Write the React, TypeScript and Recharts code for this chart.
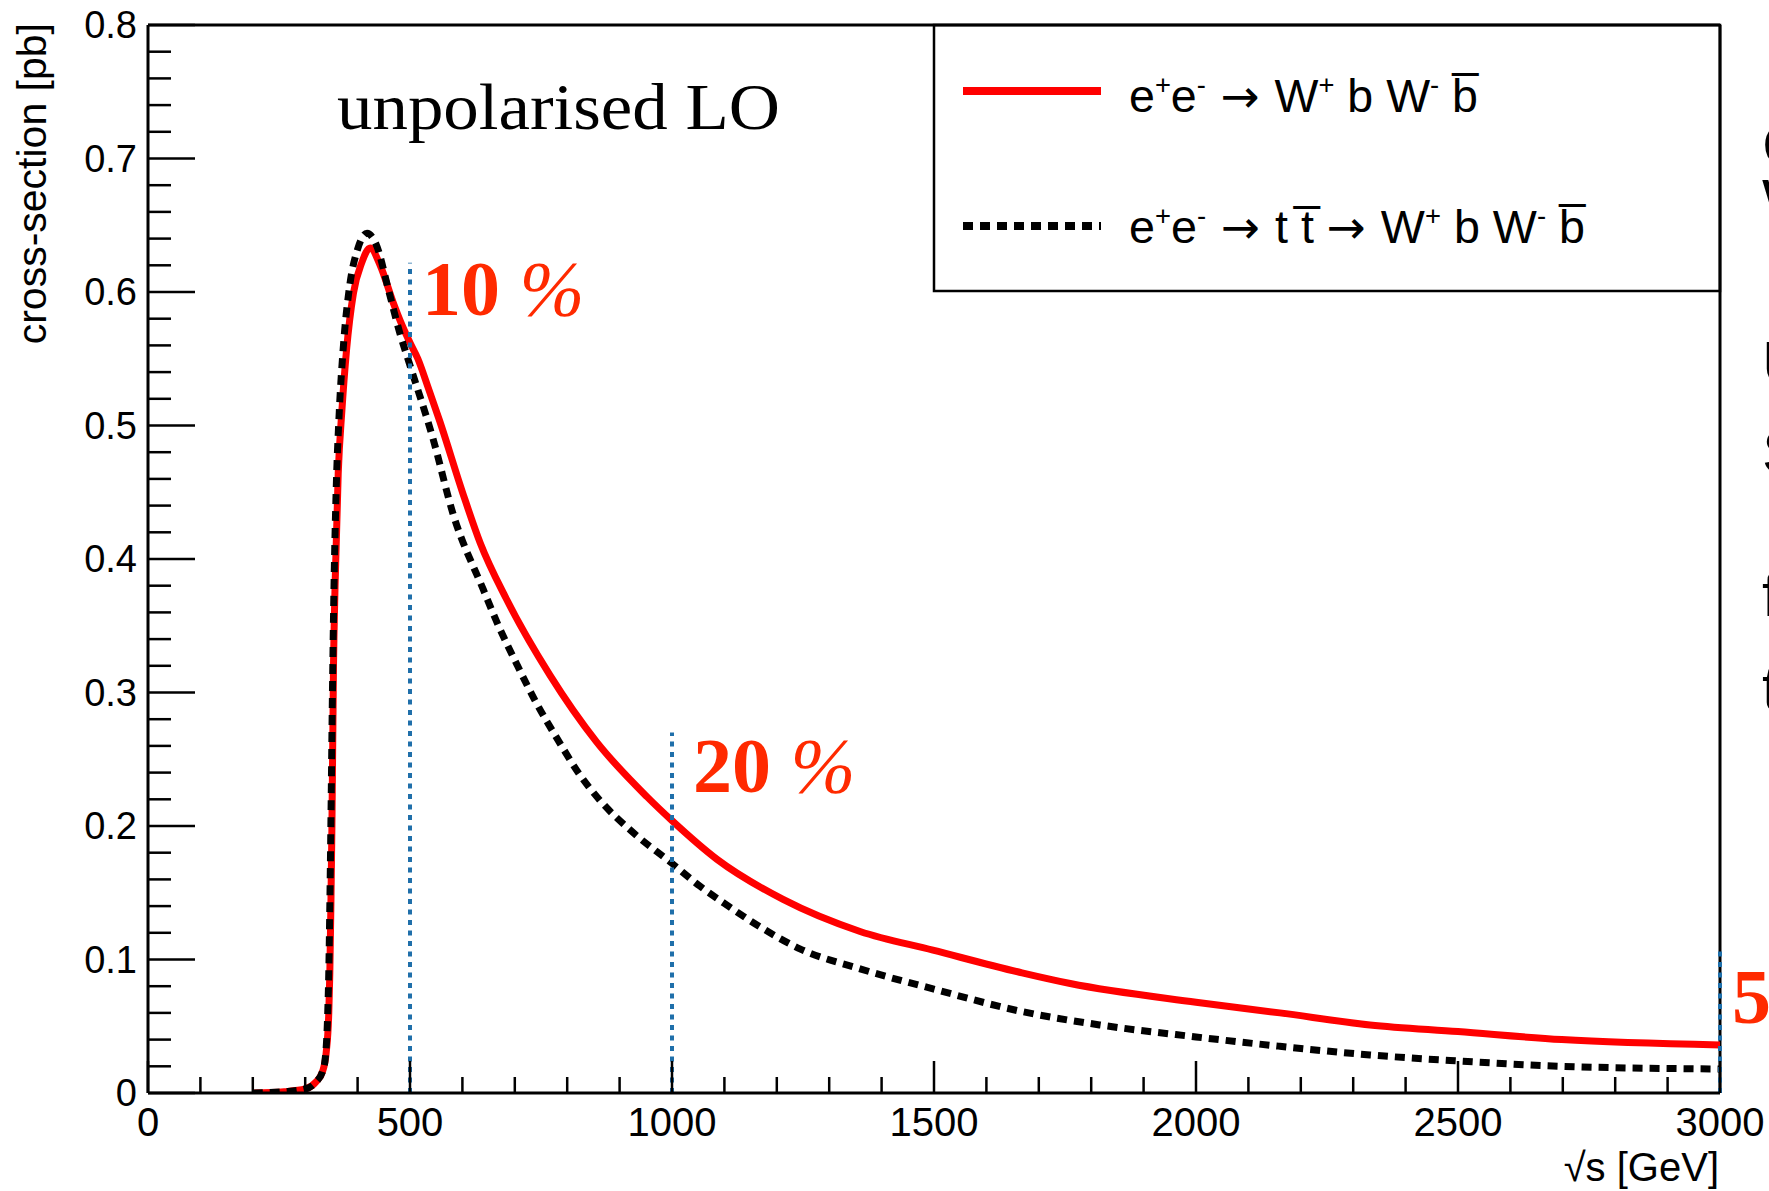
import { LineChart, Line, XAxis, YAxis, ReferenceLine } from 'recharts'

// sqrt(s) [GeV], cross-section [pb]
const wbwbFull: [number, number][] = [
  [200, 0], [260, 0.001], [300, 0.003], [320, 0.008], [333, 0.016], [340, 0.03],
  [345, 0.06], [347, 0.09], [349, 0.14], [351, 0.2], [354, 0.32], [357, 0.38],
  [363, 0.464], [370, 0.511], [379, 0.557], [392, 0.599], [408, 0.622], [424, 0.633],
  [443, 0.62], [468, 0.592], [485, 0.575], [500, 0.562], [515, 0.55], [535, 0.528],
  [557, 0.503], [601, 0.449], [634, 0.412], [684, 0.37], [767, 0.313], [856, 0.263],
  [952, 0.222], [1000, 0.204], [1086, 0.175], [1212, 0.145], [1359, 0.121], [1498, 0.107],
  [1668, 0.09], [1760, 0.082], [2000, 0.068], [2160, 0.06], [2332, 0.051], [2500, 0.046],
  [2698, 0.04], [3000, 0.036],
]

const ttbarOnly: [number, number][] = [
  [200, 0], [260, 0.001], [300, 0.003], [320, 0.008], [333, 0.016], [338, 0.025],
  [343, 0.06], [345, 0.09], [347, 0.14], [349, 0.2], [352, 0.3], [355, 0.38],
  [359, 0.45], [365, 0.51], [373, 0.56], [385, 0.605], [400, 0.632], [418, 0.644],
  [435, 0.636], [460, 0.6], [480, 0.57], [500, 0.545], [544, 0.49], [582, 0.434],
  [640, 0.377], [670, 0.349], [704, 0.321], [740, 0.293], [780, 0.266], [823, 0.239],
  [863, 0.219], [926, 0.195], [1000, 0.172], [1053, 0.155], [1100, 0.142], [1170, 0.124],
  [1244, 0.108], [1359, 0.093], [1498, 0.078], [1668, 0.061], [1816, 0.051], [2000, 0.042],
  [2160, 0.035], [2332, 0.0285], [2500, 0.024], [2698, 0.02], [3000, 0.018],
]

const xTicks = [
  0, 100, 200, 300, 400, 500, 600, 700, 800, 900, 1000, 1100, 1200, 1300, 1400, 1500,
  1600, 1700, 1800, 1900, 2000, 2100, 2200, 2300, 2400, 2500, 2600, 2700, 2800, 2900, 3000,
]
const yTicks = [
  0, 0.02, 0.04, 0.06, 0.08, 0.1, 0.12, 0.14, 0.16, 0.18, 0.2, 0.22, 0.24, 0.26, 0.28,
  0.3, 0.32, 0.34, 0.36, 0.38, 0.4, 0.42, 0.44, 0.46, 0.48, 0.5, 0.52, 0.54, 0.56, 0.58,
  0.6, 0.62, 0.64, 0.66, 0.68, 0.7, 0.72, 0.74, 0.76, 0.78, 0.8,
]

// blue markers: energy, height of dotted line
const markerX = [500, 1000, 3000]
const markerTop = [0.622, 0.27, 0.107]

const toPoints = (pts: [number, number][]) => pts.map(([x, y]) => ({ x, y }))

const SANS = '"Liberation Sans", Arial, Helvetica, sans-serif'
const SERIF = '"Liberation Serif", "Times New Roman", serif'
const ARROW = '"DejaVu Sans", sans-serif'
const ANNOT = '#ff2a00'
const BLUE = '#1f6faa'

function XTick(props: any) {
  const { x, y, payload } = props
  const v = payload.value
  const major = v % 500 === 0
  return (
    <g>
      <line x1={x} x2={x} y1={y} y2={y - (major ? 32 : 16)} stroke="#000" strokeWidth={2.5} />
      {major && (
        <text x={x} y={y + 43} textAnchor="middle" fontSize={40} fontFamily={SANS} fill="#000">
          {v}
        </text>
      )}
    </g>
  )
}

function YTick(props: any) {
  const { x, y, payload } = props
  const v = payload.value
  const major = Math.round(v * 1000) % 100 === 0
  return (
    <g>
      <line x1={x} x2={x + (major ? 47 : 23)} y1={y} y2={y} stroke="#000" strokeWidth={2.5} />
      {major && (
        <text x={x - 11} y={y + 13} textAnchor="end" fontSize={38} fontFamily={SANS} fill="#000">
          {v === 0 ? '0' : v.toFixed(1)}
        </text>
      )}
    </g>
  )
}

export default function App() {
  return (
    <div style={{ position: 'absolute', left: 0, top: 0, width: 1769, height: 1191, background: '#fff', overflow: 'hidden' }}>
      <LineChart width={1769} height={1191} margin={{ top: 25, right: 49, bottom: 0, left: 0 }}>
        <XAxis
          dataKey="x"
          type="number"
          domain={[0, 3000]}
          ticks={xTicks}
          interval={0}
          height={98}
          tickSize={0}
          tickMargin={0}
          tickLine={false}
          tick={<XTick />}
          axisLine={{ stroke: '#000', strokeWidth: 3 }}
          allowDataOverflow
        />
        <YAxis
          type="number"
          domain={[0, 0.8]}
          ticks={yTicks}
          interval={0}
          width={148}
          tickSize={0}
          tickMargin={0}
          tickLine={false}
          tick={<YTick />}
          axisLine={{ stroke: '#000', strokeWidth: 3 }}
          allowDataOverflow
        />
        <ReferenceLine y={0.8} stroke="#000" strokeWidth={3} />
        <ReferenceLine x={3000} stroke="#000" strokeWidth={3} />
        <Line
          data={toPoints(wbwbFull)}
          dataKey="y"
          type="monotone"
          stroke="#ff0000"
          strokeWidth={7}
          dot={false}
          activeDot={false}
          isAnimationActive={false}
        />
        <Line
          data={toPoints(ttbarOnly)}
          dataKey="y"
          type="monotone"
          stroke="#000"
          strokeWidth={7}
          strokeDasharray="10 7"
          dot={false}
          activeDot={false}
          isAnimationActive={false}
        />
        {markerX.map((mx, i) => (
          <ReferenceLine
            key={mx}
            segment={[{ x: mx, y: 0 }, { x: mx, y: markerTop[i] }]}
            stroke={BLUE}
            strokeWidth={4}
            strokeDasharray="5 5.5"
          />
        ))}
      </LineChart>

      <svg
        width={1769}
        height={1191}
        style={{ position: 'absolute', left: 0, top: 0, pointerEvents: 'none', overflow: 'hidden' }}
      >
        {/* axis titles */}
        <text
          transform="translate(46, 23) rotate(-90)"
          textAnchor="end"
          fontSize={41}
          fontFamily={SANS}
          fill="#000"
        >
          cross-section [pb]
        </text>
        <text x={1719} y={1181} textAnchor="end" fontSize={40} fontFamily={SANS} fill="#000">
          √s [GeV]
        </text>

        <text x={337} y={129} fontSize={66} fontFamily={SERIF} fill="#000" textLength={443} lengthAdjust="spacingAndGlyphs">
          unpolarised LO
        </text>

        {/* legend */}
        <rect x={934} y={25} width={786} height={266} fill="none" stroke="#000" strokeWidth={2.5} />
        <line x1={963} x2={1101} y1={91} y2={91} stroke="#ff0000" strokeWidth={8} />
        <line x1={963} x2={1101} y1={226} y2={226} stroke="#000" strokeWidth={8} strokeDasharray="10 7" />
        <text x={1129} y={112} fontSize={46} fontFamily={SANS} fill="#000" textLength={349} lengthAdjust="spacingAndGlyphs">
          e<tspan dy={-18} fontSize={27}>+</tspan>
          <tspan dy={18}>e</tspan>
          <tspan dy={-18} fontSize={27}>-</tspan>
          <tspan dy={18} fontFamily={ARROW}>{' \u2192 '}</tspan>
          <tspan>W</tspan>
          <tspan dy={-18} fontSize={27}>+</tspan>
          <tspan dy={18}>{' b W'}</tspan>
          <tspan dy={-18} fontSize={27}>-</tspan>
          <tspan dy={18}>{' b\u0305'}</tspan>
        </text>
        <text x={1129} y={243} fontSize={46} fontFamily={SANS} fill="#000" textLength={456} lengthAdjust="spacingAndGlyphs">
          e<tspan dy={-18} fontSize={27}>+</tspan>
          <tspan dy={18}>e</tspan>
          <tspan dy={-18} fontSize={27}>-</tspan>
          <tspan dy={18} fontFamily={ARROW}>{' \u2192 '}</tspan>
          <tspan>{'t t\u0305 '}</tspan>
          <tspan fontFamily={ARROW}>{'\u2192 '}</tspan>
          <tspan>W</tspan>
          <tspan dy={-18} fontSize={27}>+</tspan>
          <tspan dy={18}>{' b W'}</tspan>
          <tspan dy={-18} fontSize={27}>-</tspan>
          <tspan dy={18}>{' b\u0305'}</tspan>
        </text>

        {/* percentage annotations */}
        <text x={422} y={315} fontSize={78} fontFamily={SERIF} fill={ANNOT} fontWeight="bold">
          10 <tspan fontStyle="italic" fontWeight="normal">%</tspan>
        </text>
        <text x={693} y={792} fontSize={78} fontFamily={SERIF} fill={ANNOT} fontWeight="bold">
          20 <tspan fontStyle="italic" fontWeight="normal">%</tspan>
        </text>
        <text x={1732} y={1023} fontSize={78} fontFamily={SERIF} fill={ANNOT} fontWeight="bold">
          50 <tspan fontStyle="italic" fontWeight="normal">%</tspan>
        </text>

        {/* slide text cut at the right edge */}
        <g fontSize={62} fontFamily={SANS} fill="#000">
          <text x={1762} y={166}>C</text>
          <text x={1762} y={222}>W</text>
          <text x={1762} y={384}>U</text>
          <text x={1762} y={473}>S</text>
          <text x={1762} y={616}>f</text>
          <text x={1762} y={709}>t</text>
        </g>
      </svg>
    </div>
  )
}
